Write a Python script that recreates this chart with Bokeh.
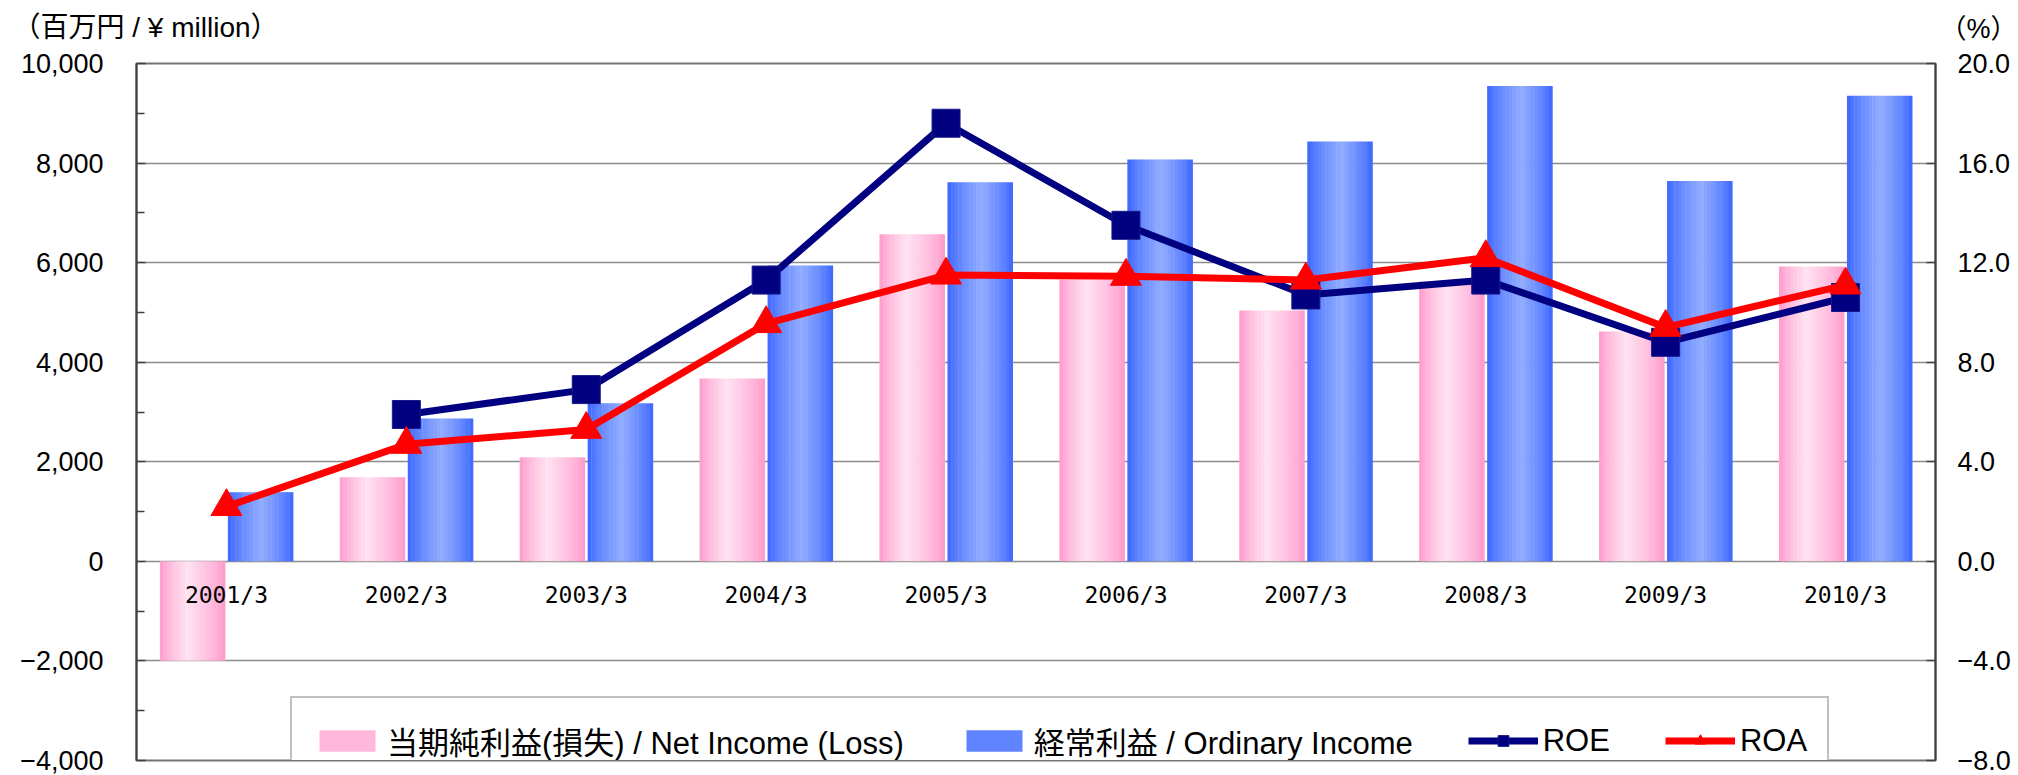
import math
from bokeh.plotting import figure
from bokeh.models import (ColumnDataSource, Range1d, LinearAxis, FixedTicker,
                          Legend, LegendItem, FactorRange)
from bokeh.transform import dodge
from bokeh.core.properties import value
from bokeh.embed import file_html
from bokeh.resources import INLINE

# ---------------- data ----------------
years = ["2001/3", "2002/3", "2003/3", "2004/3", "2005/3",
         "2006/3", "2007/3", "2008/3", "2009/3", "2010/3"]
net_income = [-1995, 1690, 2090, 3675, 6570, 5655, 5040, 5620, 4615, 5925]
ordinary_income = [1390, 2870, 3175, 5945, 7615, 8070, 8435, 9550, 7640, 9350]
roe = [float("nan"), 5.9, 6.9, 11.3, 17.6, 13.5, 10.7, 11.3, 8.8, 10.6]
roa = [2.2, 4.7, 5.3, 9.55, 11.5, 11.45, 11.3, 12.2, 9.4, 11.1]

left_ticks = [-4000, -2000, 0, 2000, 4000, 6000, 8000, 10000]
left_labels = ["−4,000", "−2,000", "0", "2,000", "4,000", "6,000", "8,000", "10,000"]
left_minor = [-3000, -1000, 1000, 3000, 5000, 7000, 9000]
right_ticks = [-8, -4, 0, 4, 8, 12, 16, 20]
right_labels = ["−8.0", "−4.0", "0.0", "4.0", "8.0", "12.0", "16.0", "20.0"]

title_left = "（百万円 / ¥ million）"
title_right = "（%）"
legend_labels = ["当期純利益(損失) / Net Income (Loss)",
                 "経常利益 / Ordinary Income", "ROE", "ROA"]

LAT = "Liberation Sans"
MIX = "Liberation Sans, Noto Sans CJK JP"
W = 2018
HEAD_H = 48

# ---------------- header strip (unit titles) ----------------
head = figure(width=W, height=HEAD_H, title=None, x_range=Range1d(0, W),
              y_range=Range1d(0, HEAD_H), output_backend="svg", toolbar_location=None,
              x_axis_location=None, y_axis_location=None,
              min_border_left=0, min_border_right=0,
              min_border_top=0, min_border_bottom=0)
head.outline_line_color = None
head.grid.grid_line_color = None
head.text(x=[12], y=[HEAD_H - 27], text=[title_left], text_align="left",
          text_baseline="middle", text_font=value(MIX), text_font_size=value("28px"),
          text_color="black")
head.text(x=[1978], y=[HEAD_H - 28], text=[title_right], text_align="center",
          text_baseline="middle", text_font=value(MIX), text_font_size=value("27px"),
          text_color="black")

# ---------------- main chart ----------------
src = ColumnDataSource(dict(year=years, net=net_income, ordinary=ordinary_income,
                            roe=roe, roa=roa))

p = figure(width=W, height=775 - HEAD_H, title=None,
           x_range=FactorRange(*years), y_range=Range1d(-4000, 10000),
           output_backend="svg", toolbar_location=None,
           min_border_left=136, min_border_right=W - 1935,
           min_border_top=63 - HEAD_H, min_border_bottom=15)
p.extra_y_ranges = {"pct": Range1d(-8, 20)}
p.background_fill_color = "white"
p.border_fill_color = "white"
p.outline_line_color = "#727272"
p.outline_line_width = 2

# left axis
ya = p.yaxis[0]
ya.ticker = FixedTicker(ticks=left_ticks, minor_ticks=left_minor)
ya.major_label_overrides = dict(zip(left_ticks, left_labels))
ya.axis_line_color = "#404040"
ya.axis_line_width = 2
ya.major_tick_in = 9
ya.major_tick_out = 0
ya.minor_tick_in = 8
ya.minor_tick_out = 0
ya.major_tick_line_color = "#404040"
ya.minor_tick_line_color = "#404040"
ya.major_tick_line_width = 1.5
ya.minor_tick_line_width = 1.5
ya.major_label_standoff = 33
ya.major_label_text_font = LAT
ya.major_label_text_font_size = "27px"
ya.major_label_text_color = "black"

# right axis
ra = LinearAxis(y_range_name="pct", ticker=FixedTicker(ticks=right_ticks, minor_ticks=[]))
ra.major_label_overrides = dict(zip(right_ticks, right_labels))
ra.axis_line_color = "#404040"
ra.axis_line_width = 2
ra.major_tick_in = 9
ra.major_tick_out = 0
ra.minor_tick_line_color = None
ra.major_tick_line_color = "#404040"
ra.major_tick_line_width = 1.5
ra.major_label_standoff = 22
ra.major_label_text_font = LAT
ra.major_label_text_font_size = "27px"
ra.major_label_text_color = "black"
p.add_layout(ra, "right")

# bottom: categories are written on the zero line, the frame outline closes the box
p.xaxis.visible = False

p.xgrid.grid_line_color = None
p.ygrid.ticker = FixedTicker(ticks=left_ticks)
p.ygrid.grid_line_color = "#8c8c8c"
p.ygrid.grid_line_width = 1.5


def mix(c1, c2, w):
    return "#%02x%02x%02x" % tuple(int(round(a + (b - a) * w)) for a, b in zip(c1, c2))


def gradient_bar(field, center, width, edge, light, peak, n=18):
    for k in range(n):
        t = (k + 0.5) / n
        w = t / peak if t < peak else (1 - t) / (1 - peak)
        w = max(0.0, min(1.0, w)) ** 0.75
        c = mix(edge, light, w)
        off = center - width / 2 + (k + 0.5) * width / n
        p.vbar(x=dodge("year", off, range=p.x_range), top=field, bottom=0,
               width=width / n * 1.12, source=src, fill_color=c, line_color=None)


PINK_EDGE, PINK_LIGHT = (255, 150, 202), (255, 226, 241)
BLUE_EDGE, BLUE_LIGHT = (56, 100, 255), (146, 172, 255)

gradient_bar("net", -0.188, 0.362, PINK_EDGE, PINK_LIGHT, 0.42)
gradient_bar("ordinary", 0.19, 0.362, BLUE_EDGE, BLUE_LIGHT, 0.52)

# category labels along the zero line
p.text(x="year", y=0, text="year", source=src, y_offset=34,
       text_align="center", text_baseline="middle",
       text_font=value("DejaVu Sans Mono"), text_font_size=value("23px"),
       text_color="black")

# ratio lines
roe_line = p.line(x="year", y="roe", source=src, y_range_name="pct",
                  line_color="#000080", line_width=7)
roe_pts = p.scatter(x="year", y="roe", source=src, y_range_name="pct",
                    marker="square", size=28, fill_color="#000080",
                    line_color="#1a1a8a", line_width=1)
roa_line = p.line(x="year", y="roa", source=src, y_range_name="pct",
                  line_color="#ff0000", line_width=7)
roa_pts = p.scatter(x="year", y="roa", source=src, y_range_name="pct",
                    marker="triangle", size=31, fill_color="#ff0000",
                    line_color="#ff0000", line_width=1)

# legend swatches (solid stand-ins for the gradient bars)
pink_sw = p.vbar(x=[years[0]], top=[0], width=0.01, fill_color=mix(PINK_EDGE, PINK_LIGHT, 0.45),
                 line_color=None, visible=False)
blue_sw = p.vbar(x=[years[0]], top=[0], width=0.01, fill_color=mix(BLUE_EDGE, BLUE_LIGHT, 0.45),
                 line_color=None, visible=False)

legend = Legend(items=[
    LegendItem(label=legend_labels[0], renderers=[pink_sw]),
    LegendItem(label=legend_labels[1], renderers=[blue_sw]),
    LegendItem(label=legend_labels[2], renderers=[roe_line, roe_pts]),
    LegendItem(label=legend_labels[3], renderers=[roa_line, roa_pts]),
], orientation="horizontal", location=(154, -25), padding=20, spacing=55,
    glyph_width=70, glyph_height=27, label_standoff=5, margin=0,
    label_text_font=MIX, label_text_font_size="31px", label_text_color="black",
    label_text_baseline="middle",
    border_line_color="#808080", border_line_width=2,
    background_fill_color="white", background_fill_alpha=1.0)
p.add_layout(legend, "center")

open("out.html", "w").write(file_html([head, p], INLINE))
